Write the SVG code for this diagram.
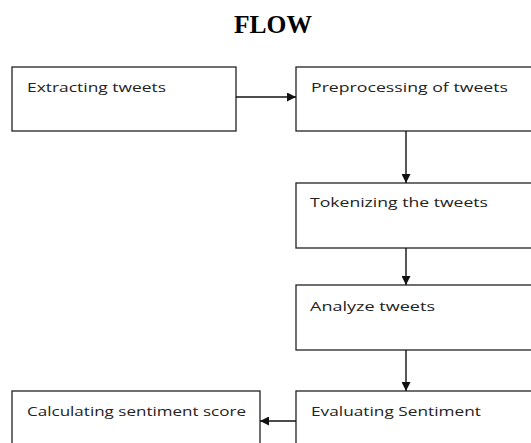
<svg xmlns="http://www.w3.org/2000/svg" width="531" height="443" viewBox="0 0 531 443">
<style>
.box{fill:#fff;stroke:#222;stroke-width:1.3}
.lbl{font-family:"Open Sans","Liberation Sans",sans-serif;font-size:13.5px;fill:#222}
.title{font-family:"Liberation Serif","Times New Roman",serif;font-weight:bold;font-size:25.5px;fill:#000}
.conn{stroke:#111;stroke-width:1.4;fill:none;marker-end:url(#arr)}
</style>
<defs>
<marker id="arr" viewBox="0 0 10 10" refX="10" refY="5" markerUnits="userSpaceOnUse" markerWidth="10" markerHeight="9" orient="auto">
<path d="M0,0 L10,5 L0,10 z" fill="#111"/>
</marker>
</defs>
<rect width="531" height="443" fill="#fff"/>
<text class="title" x="273" y="33" text-anchor="middle">FLOW</text>
<g id="extracting">
<rect class="box" x="12" y="67" width="224" height="64"/>
<text class="lbl" x="27" y="92" textLength="139" lengthAdjust="spacingAndGlyphs">Extracting tweets</text>
</g>
<g id="preprocessing">
<rect class="box" x="296" y="67" width="250" height="64"/>
<text class="lbl" x="311" y="92" textLength="197" lengthAdjust="spacingAndGlyphs">Preprocessing of tweets</text>
</g>
<g id="tokenizing">
<rect class="box" x="296" y="183" width="250" height="65"/>
<text class="lbl" x="310" y="207" textLength="178" lengthAdjust="spacingAndGlyphs">Tokenizing the tweets</text>
</g>
<g id="analyze">
<rect class="box" x="296" y="285" width="250" height="65"/>
<text class="lbl" x="310" y="311" textLength="125" lengthAdjust="spacingAndGlyphs">Analyze tweets</text>
</g>
<g id="evaluating">
<rect class="box" x="296" y="391" width="250" height="65"/>
<text class="lbl" x="311" y="416" textLength="170" lengthAdjust="spacingAndGlyphs">Evaluating Sentiment</text>
</g>
<g id="calculating">
<rect class="box" x="12" y="391" width="248" height="65"/>
<text class="lbl" x="27" y="416" textLength="219" lengthAdjust="spacingAndGlyphs">Calculating sentiment score</text>
</g>
<g id="connectors">
<line class="conn" x1="236" y1="97" x2="296" y2="97"/>
<line class="conn" x1="406" y1="131" x2="406" y2="183"/>
<line class="conn" x1="406" y1="248" x2="406" y2="285"/>
<line class="conn" x1="406" y1="350" x2="406" y2="391"/>
<line class="conn" x1="296" y1="421" x2="260" y2="421"/>
</g>
</svg>
